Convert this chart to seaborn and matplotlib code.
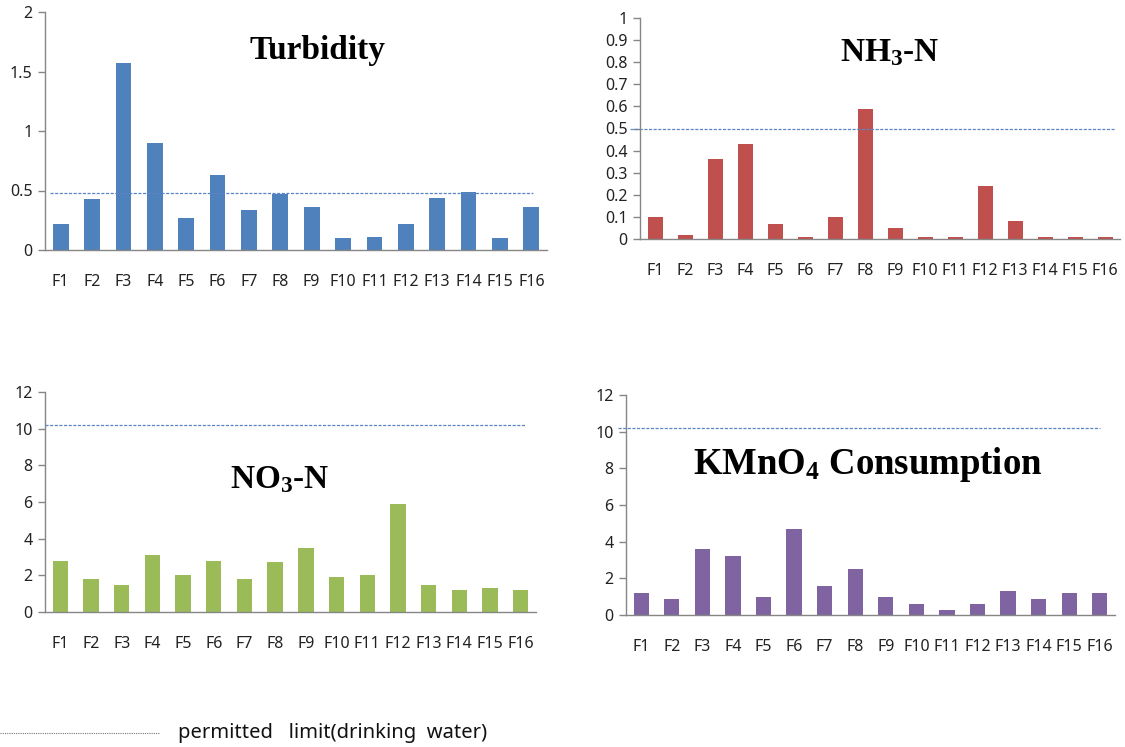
import matplotlib
matplotlib.use("Agg")
import matplotlib.pyplot as plt
import seaborn as sns
import pandas as pd
from matplotlib.lines import Line2D
from matplotlib.ticker import FixedLocator, FuncFormatter

sns.set_style("white")
plt.rcParams['font.family'] = ['Noto Sans', 'DejaVu Sans']
plt.rcParams['mathtext.fontset'] = 'custom'
plt.rcParams['mathtext.rm'] = 'Liberation Serif:bold'
plt.rcParams['mathtext.bf'] = 'Liberation Serif:bold'

sites = [f"F{i}" for i in range(1, 17)]
turbidity = [0.22, 0.43, 1.57, 0.90, 0.27, 0.63, 0.34, 0.47, 0.36, 0.10, 0.11, 0.22, 0.44, 0.49, 0.10, 0.36]
nh3n = [0.10, 0.02, 0.36, 0.43, 0.07, 0.01, 0.10, 0.59, 0.05, 0.01, 0.01, 0.24, 0.08, 0.01, 0.01, 0.01]
no3n = [2.8, 1.8, 1.5, 3.1, 2.0, 2.8, 1.8, 2.75, 3.5, 1.9, 2.0, 5.9, 1.5, 1.2, 1.3, 1.2]
kmno4 = [1.2, 0.9, 3.6, 3.2, 1.0, 4.7, 1.6, 2.5, 1.0, 0.6, 0.3, 0.6, 1.3, 0.9, 1.2, 1.2]
limits = [0.48, 0.5, 10.2, 10.2]
titles = ["Turbidity", r"NH$\mathregular{_3}$-N", r"NO$\mathregular{_3}$-N", r"KMnO$\mathregular{_4}$ Consumption"]
yticks = [[0, 0.5, 1, 1.5, 2],
          [0, 0.1, 0.2, 0.3, 0.4, 0.5, 0.6, 0.7, 0.8, 0.9, 1.0],
          [0, 2, 4, 6, 8, 10, 12],
          [0, 2, 4, 6, 8, 10, 12]]
legend_label = "permitted   limit(drinking  water)"

colors = ["#4F81BD", "#C0504D", "#9BBB59", "#8064A2"]
W, H = 1125, 747
# pixel boxes: left, right, top, bottom
boxes = [(45, 547, 12, 250), (640, 1120, 18, 239), (45, 536, 392, 612), (626, 1115, 395, 615)]
title_pos = [(317, 50), (890, 53), (280, 480), (868, 465)]
title_size = [24, 24, 24, 26.5]
line_span = [(0.01, 0.972), (-0.02, 0.99), (0.0, 0.978), (-0.016, 0.969)]

fig = plt.figure(figsize=(W / 100, H / 100), dpi=100)
series = [turbidity, nh3n, no3n, kmno4]

for i, vals in enumerate(series):
    l, r, t, b = boxes[i]
    ax = fig.add_axes([l / W, (H - b) / H, (r - l) / W, (b - t) / H])
    df = pd.DataFrame({"site": sites, "value": vals})
    sns.barplot(data=df, x="site", y="value", color=colors[i], width=0.5,
                saturation=1, ax=ax, edgecolor="none")
    ax.set_xlim(-0.5, 15.5)
    ax.set_ylim(yticks[i][0], yticks[i][-1])
    ax.set_xlabel("")
    ax.set_ylabel("")
    ax.yaxis.set_major_locator(FixedLocator(yticks[i]))
    ax.yaxis.set_major_formatter(FuncFormatter(lambda v, p: f"{v:g}"))
    ax.set_xticks([x - 0.5 for x in range(17)], minor=True)
    ax.tick_params(axis="x", which="major", length=0, pad=17, labelsize=11.5, labelcolor="#222222")
    ax.tick_params(axis="x", which="minor", length=7, width=1, color="#868686", direction="out")
    ax.tick_params(axis="y", which="major", length=5, width=1, color="#868686", direction="out",
                   labelsize=11.5, labelcolor="#222222", pad=4, left=True)
    for s in ["top", "right"]:
        ax.spines[s].set_visible(False)
    for s in ["left", "bottom"]:
        ax.spines[s].set_color("#868686")
        ax.spines[s].set_linewidth(1)
    ax.axhline(limits[i], xmin=line_span[i][0], xmax=line_span[i][1], color="#5b86c4",
               linestyle=(0, (2.5, 1.2)), linewidth=0.9, clip_on=False)
    tx, ty = title_pos[i]
    fig.text(tx / W, (H - ty) / H, titles[i], ha="center", va="center", color="black",
             fontsize=title_size[i], fontweight="bold", family="Liberation Serif")

# legend at bottom
fig.add_artist(Line2D([0 / W, 160 / W], [(H - 733) / H] * 2, transform=fig.transFigure,
                      color="#777777", linestyle=(0, (1, 1)), linewidth=0.8))
fig.text(178 / W, (H - 733) / H, legend_label, ha="left", va="center", fontsize=14.5,
         color="#111111")

fig.savefig("out.png", dpi=100)
